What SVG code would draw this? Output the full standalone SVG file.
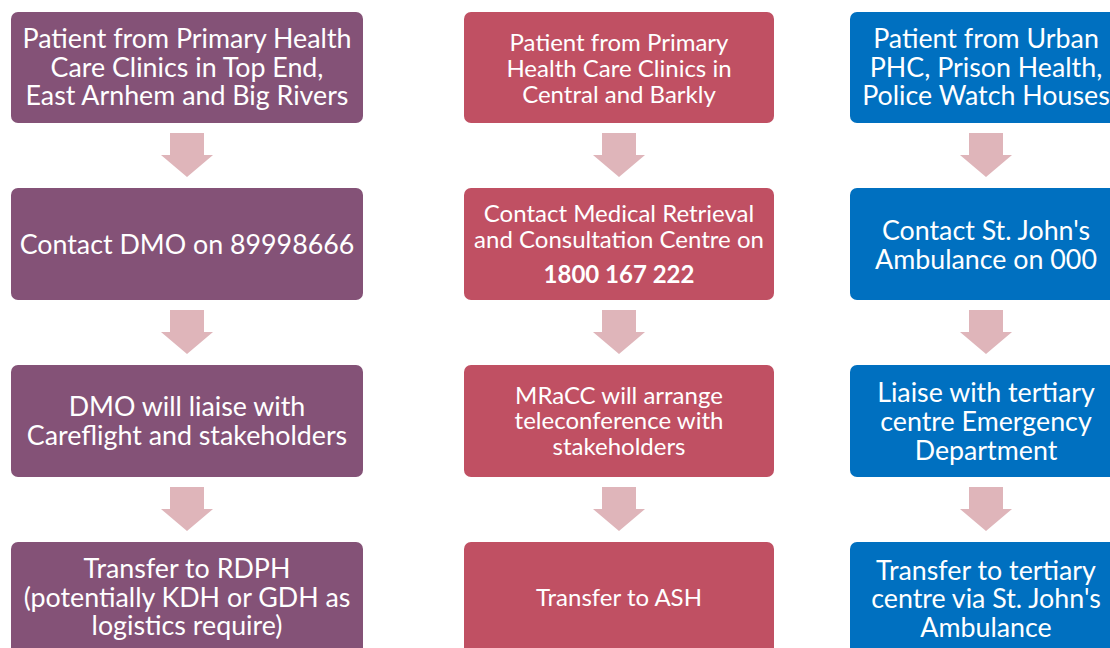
<svg xmlns="http://www.w3.org/2000/svg" width="1110" height="648" viewBox="0 0 1110 648">
<defs>
<style>
.t{font-family:Lato,"Open Sans","Liberation Sans",sans-serif;fill:#ffffff;text-anchor:middle}
.big{font-size:26.8px}
.mid{font-size:24px}
.b{font-weight:bold}
.p{fill:#845277}
.r{fill:#C05063}
.bl{fill:#0070C0}
.ar{fill:#DFB5BA}
</style>
<path id="arrow" d="M-17,0 H17 V22 H26 L0,44 L-26,22 H-17 Z"/>
</defs>
<rect width="1110" height="648" fill="#ffffff"/>
<g id="connectors" class="ar">
<use href="#arrow" x="187" y="133"/>
<use href="#arrow" x="187" y="310"/>
<use href="#arrow" x="187" y="487"/>
<use href="#arrow" x="619" y="133"/>
<use href="#arrow" x="619" y="310"/>
<use href="#arrow" x="619" y="487"/>
<use href="#arrow" x="986" y="133"/>
<use href="#arrow" x="986" y="310"/>
<use href="#arrow" x="986" y="487"/>
</g>
<g id="n1a"><rect class="p" x="11" y="12" width="352" height="111" rx="7"/>
<text class="t big"><tspan x="187" y="48">Patient from Primary Health</tspan><tspan x="187" y="76.5">Care Clinics in Top End,</tspan><tspan x="187" y="105">East Arnhem and Big Rivers</tspan></text></g>
<g id="n1b"><rect class="p" x="11" y="188" width="352" height="112" rx="7"/>
<text class="t big"><tspan x="187" y="253.5">Contact DMO on 89998666</tspan></text></g>
<g id="n1c"><rect class="p" x="11" y="365" width="352" height="112" rx="7"/>
<text class="t big"><tspan x="187" y="415.5">DMO will liaise with</tspan><tspan x="187" y="444.5">Careflight and stakeholders</tspan></text></g>
<g id="n1d"><rect class="p" x="11" y="542" width="352" height="112" rx="7"/>
<text class="t big"><tspan x="187" y="577.5">Transfer to RDPH</tspan><tspan x="187" y="606.5">(potentially KDH or GDH as</tspan><tspan x="187" y="634.5">logistics require)</tspan></text></g>
<g id="n2a"><rect class="r" x="464" y="12" width="310" height="111" rx="7"/>
<text class="t mid"><tspan x="619" y="50.5">Patient from Primary</tspan><tspan x="619" y="76.5">Health Care Clinics in</tspan><tspan x="619" y="102.5">Central and Barkly</tspan></text></g>
<g id="n2b"><rect class="r" x="464" y="188" width="310" height="112" rx="7"/>
<text class="t mid"><tspan x="619" y="221.5">Contact Medical Retrieval</tspan><tspan x="619" y="247.5">and Consultation Centre on</tspan><tspan class="b" x="619" y="282.5">1800 167 222</tspan></text></g>
<g id="n2c"><rect class="r" x="464" y="365" width="310" height="112" rx="7"/>
<text class="t mid"><tspan x="619" y="403.5">MRaCC will arrange</tspan><tspan x="619" y="428.5">teleconference with</tspan><tspan x="619" y="454.5">stakeholders</tspan></text></g>
<g id="n2d"><rect class="r" x="464" y="542" width="310" height="112" rx="7"/>
<text class="t mid"><tspan x="619" y="605.5">Transfer to ASH</tspan></text></g>
<g id="n3a"><rect class="bl" x="850" y="12" width="272" height="111" rx="7"/>
<text class="t big"><tspan x="986" y="48">Patient from Urban</tspan><tspan x="986" y="76.5">PHC, Prison Health,</tspan><tspan x="986" y="105">Police Watch Houses</tspan></text></g>
<g id="n3b"><rect class="bl" x="850" y="188" width="272" height="112" rx="7"/>
<text class="t big"><tspan x="986" y="239.5">Contact St. John's</tspan><tspan x="986" y="268.5">Ambulance on 000</tspan></text></g>
<g id="n3c"><rect class="bl" x="850" y="365" width="272" height="112" rx="7"/>
<text class="t big"><tspan x="986" y="401.5">Liaise with tertiary</tspan><tspan x="986" y="430.5">centre Emergency</tspan><tspan x="986" y="459.5">Department</tspan></text></g>
<g id="n3d"><rect class="bl" x="850" y="542" width="272" height="112" rx="7"/>
<text class="t big"><tspan x="986" y="579.5">Transfer to tertiary</tspan><tspan x="986" y="607.5">centre via St. John's</tspan><tspan x="986" y="636.5">Ambulance</tspan></text></g>
</svg>
